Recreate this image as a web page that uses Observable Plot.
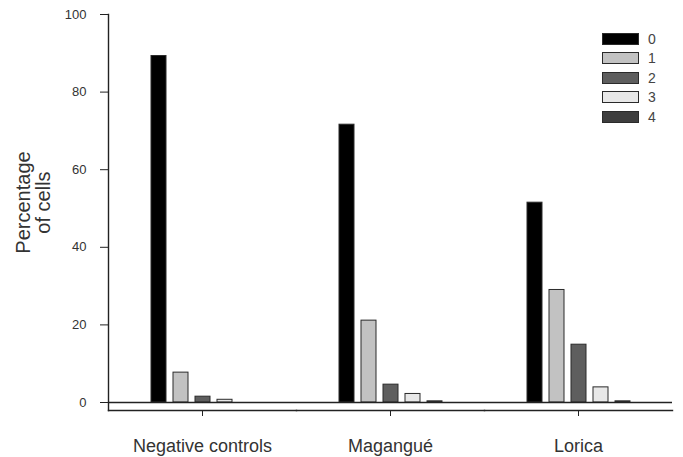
<!DOCTYPE html>
<html>
<head>
<meta charset="utf-8">
<script src="https://cdn.jsdelivr.net/npm/d3@7"></script>
<script src="https://cdn.jsdelivr.net/npm/@observablehq/plot@0.6"></script>
<style>
  html, body { margin: 0; padding: 0; background: #fff; }
  #wrap { position: relative; width: 683px; height: 457px; font-family: "Liberation Sans", Arial, sans-serif; }
  #legend { position: absolute; left: 602px; top: 29px; }
  .lg-row { display: flex; align-items: center; height: 19.5px; }
  .lg-sw { width: 37px; height: 12px; box-sizing: border-box; border: 1px solid #2a2a2a; }
  .lg-lab { margin-left: 9px; font-size: 14px; color: #444; line-height: 12px; }
</style>
</head>
<body>
<div id="wrap"></div>
<script>
// ---- data ----
const groups = ["Negative controls", "Magangué", "Lorica"];
const categories = ["0", "1", "2", "3", "4"];
const score0 = [89.3, 71.6, 51.5];
const score1 = [7.7, 21.1, 29.0];
const score2 = [1.5, 4.6, 14.9];
const score3 = [0.7, 2.2, 3.9];
const score4 = [0.0, 0.3, 0.3];
const yTicks = [0, 20, 40, 60, 80, 100];
const yLabel = "Percentage\nof cells";
const colors = ["#000000", "#c2c2c2", "#5e5e5e", "#e8e8e8", "#3e3e3e"];

const series = [score0, score1, score2, score3, score4];
const data = groups.flatMap((g, i) =>
  categories.map((c, k) => ({ group: g, cat: c, value: series[k][i] }))
);

const chart = Plot.plot({
  width: 683,
  height: 457,
  marginLeft: 108,
  marginRight: 11,
  marginTop: 14,
  marginBottom: 47,
  style: { fontFamily: "'Liberation Sans', Arial, sans-serif", color: "#333", background: "#fff" },
  fx: { domain: groups, padding: 0, label: null },
  x: { domain: categories, paddingInner: 0.33, paddingOuter: 1.89, axis: null },
  y: { domain: [0, 100], insetBottom: 8, insetTop: 0, axis: null },
  color: { domain: categories, range: colors },
  marks: [
    Plot.barY(data, { fx: "group", x: "cat", y: "value", fill: "cat", stroke: "#2a2a2a", strokeWidth: 1 }),
    Plot.ruleY([0], { stroke: "#222", strokeWidth: 1.4 }),
    Plot.frame({ anchor: "bottom", stroke: "#222", strokeWidth: 1.4 }),
    Plot.frame({ anchor: "left", facetAnchor: "left", stroke: "#222", strokeWidth: 1.4 }),
    Plot.axisY({ ticks: yTicks, tickSize: 8, tickPadding: 14, fontSize: 13, label: null, stroke: "#222" }),
    Plot.axisFx({ anchor: "bottom", tickSize: 6, tickPadding: 23, fontSize: 18, label: null, stroke: "#222" }),
    Plot.text([{ g: groups[0], t: yLabel }], {
      fx: "g", text: "t", frameAnchor: "left", rotate: -90, lineAnchor: "middle", textAnchor: "middle",
      dx: -74.5, dy: -10, fontSize: 20, fill: "#333"
    })
  ]
});

const wrap = document.getElementById("wrap");
wrap.appendChild(chart);

// legend
const legend = d3.select(wrap).append("div").attr("id", "legend");
const rows = legend.selectAll("div").data(categories).join("div").attr("class", "lg-row");
rows.append("div").attr("class", "lg-sw").style("background", (d, i) => colors[i]);
rows.append("div").attr("class", "lg-lab").text(d => d);
</script>
</body>
</html>
